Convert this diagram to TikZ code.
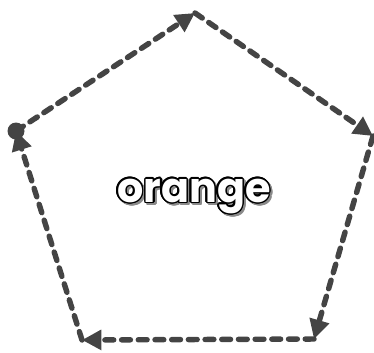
\documentclass[tikz,border=0pt]{standalone}
\usepackage{fontspec}
\setmainfont{Poppins}
\usepackage{contour}
\usepackage{tikz}
\usetikzlibrary{arrows.meta}
\contourlength{0.9pt}
\definecolor{edgegray}{HTML}{444444}
\definecolor{shadowgray}{HTML}{8A8A8A}

\begin{document}
\begin{tikzpicture}[
      x=0.02cm, y=-0.02cm,
      cycleedge/.style={draw=edgegray, line width=3.1pt, line cap=round,
        dash pattern=on 5pt off 4.5pt, -{Triangle[length=11pt,width=11pt]}},
      every node/.style={font=\bfseries\fontsize{23.5}{23.5}\selectfont}
    ]
      \useasboundingbox (0,0) rectangle (374,352);
      % pentagon corners, clockwise from the left one
      \coordinate (left) at (16,131);
      \coordinate (top) at (195,13);
      \coordinate (right) at (373,136);
      \coordinate (lowright) at (314,339);
      \coordinate (lowleft) at (82,340);
      \fill[edgegray] (left) circle (8.5);
      \path[cycleedge] (left) -- (top);
      \path[cycleedge] (top) -- (right);
      \path[cycleedge] (right) -- (lowright);
      \path[cycleedge] (lowright) -- (lowleft);
      \path[cycleedge] (lowleft) -- (left);
      % label with shadow
      \node (shadow) at (196,199) {\contour{shadowgray}{\color{shadowgray}orange}};
      \node (label) at (194,197) {\contour{black}{\color{white}orange}};
    \end{tikzpicture}
\end{document}
